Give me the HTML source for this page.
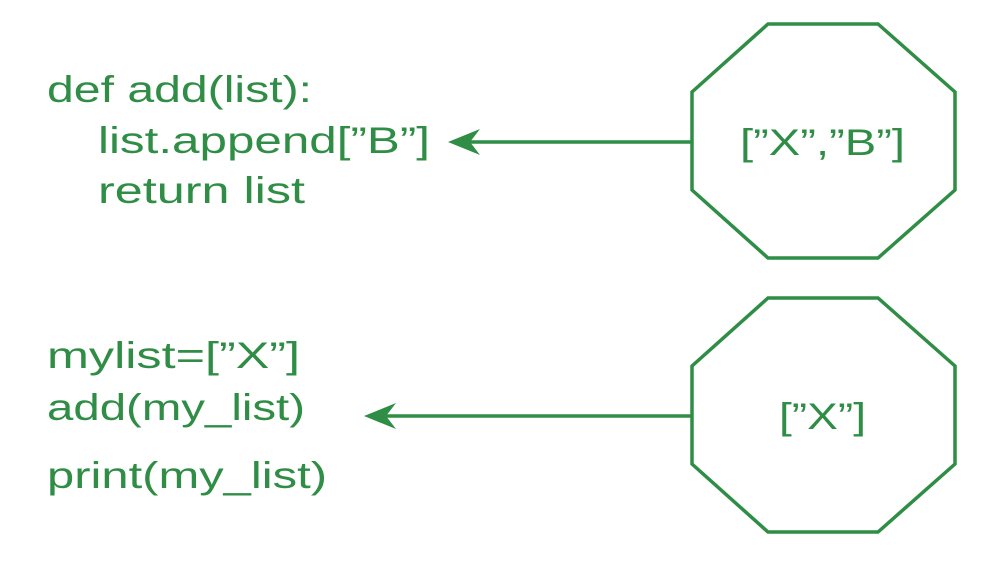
<!DOCTYPE html>
<html><head><style>body{margin:0;background:#fff}</style></head><body>
<svg width="1000" height="558" viewBox="0 0 1000 558" xmlns="http://www.w3.org/2000/svg">
<g fill="none" stroke="#2f8d46" stroke-width="3.5">
<polygon points="768,24 878,24 955,92 955,190 878,258 768,258 692,190 692,92"/>
<polygon points="768,298 878,298 955,366 955,464 878,532 768,532 692,464 692,366"/>
<line x1="692" y1="142" x2="470" y2="142"/>
<line x1="692" y1="416" x2="386" y2="416"/>
</g>
<g fill="#2f8d46">
<polygon points="448,142 480,129 470,142 480,155"/>
<polygon points="364,416 396,403 386,416 396,429"/>
</g>
<g fill="#2f8d46" font-family="Liberation Sans, sans-serif" font-size="37" lengthAdjust="spacingAndGlyphs">
<text x="47" y="102" textLength="265" lengthAdjust="spacingAndGlyphs">def add(list):</text>
<text x="98" y="153" textLength="332" lengthAdjust="spacingAndGlyphs">list.append[”B”]</text>
<text x="98" y="203" textLength="207" lengthAdjust="spacingAndGlyphs">return list</text>
<text x="47" y="368" textLength="253" lengthAdjust="spacingAndGlyphs">mylist=[”X”]</text>
<text x="47" y="420" textLength="258" lengthAdjust="spacingAndGlyphs">add(my_list)</text>
<text x="47" y="488" textLength="280" lengthAdjust="spacingAndGlyphs">print(my_list)</text>
<text x="740" y="155" textLength="165" lengthAdjust="spacingAndGlyphs">[”X”,”B”]</text>
<text x="779" y="429" textLength="87" lengthAdjust="spacingAndGlyphs">[”X”]</text>
</g>
</svg>
</body></html>
